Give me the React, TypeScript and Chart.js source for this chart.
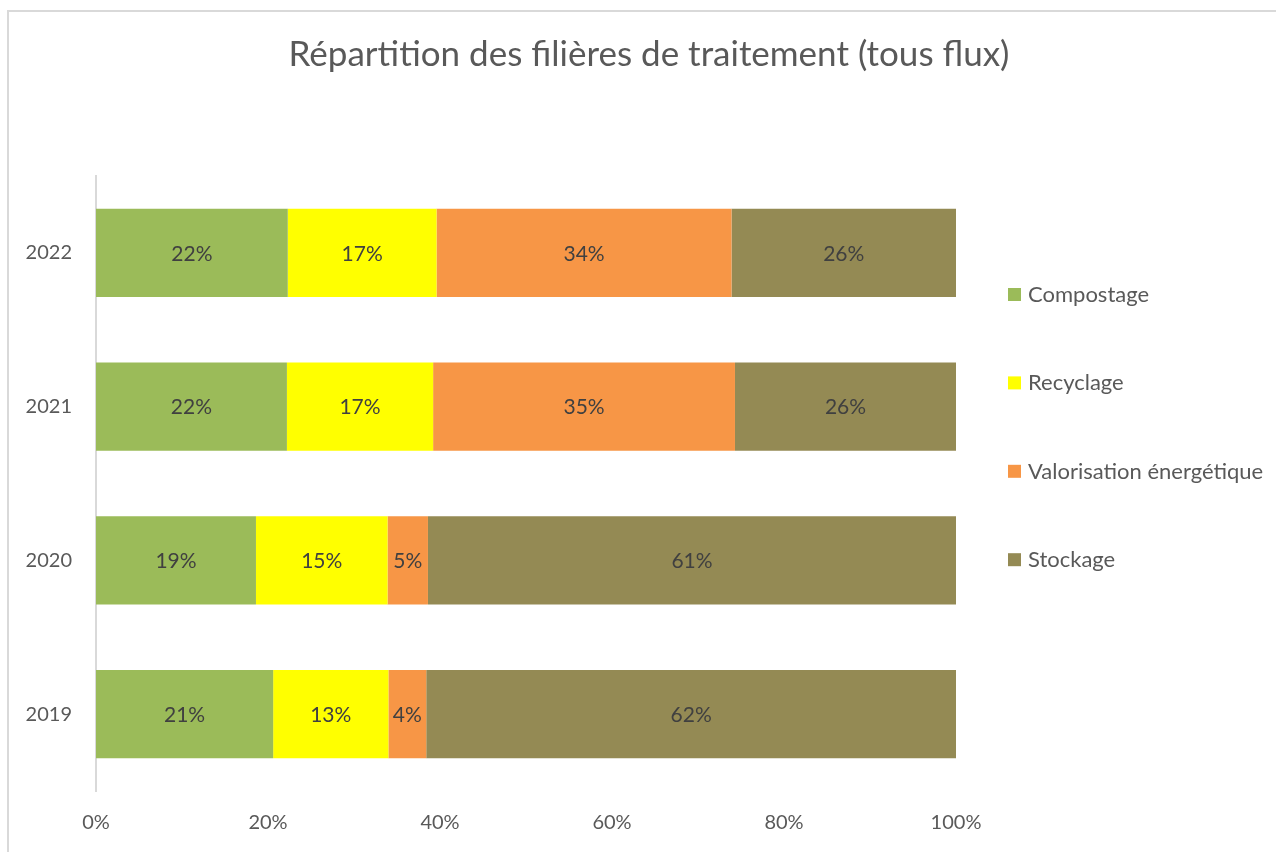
import React, { useEffect, useRef } from "react";
import { Chart, registerables } from "chart.js";

Chart.register(...registerables);

const years = ["2022", "2021", "2020", "2019"];
const seriesNames = ["Compostage", "Recyclage", "Valorisation énergétique", "Stockage"];
const compostage = [22.3, 22.2, 18.6, 20.6];
const recyclage = [17.3, 17.0, 15.3, 13.4];
const valorisation = [34.3, 35.1, 4.7, 4.4];
const stockage = [26.1, 25.7, 61.4, 61.6];
const seriesColors = ["#9BBB59", "#FFFF00", "#F79646", "#948A54"];
const xTicks = [0, 20, 40, 60, 80, 100];

const FONT = "Lato, 'Open Sans', sans-serif";

const labelPlugin = {
  id: "barLabels",
  afterDatasetsDraw(chart: any) {
    const ctx = chart.ctx;
    ctx.save();
    ctx.font = `21px ${FONT}`;
    ctx.fillStyle = "#404040";
    ctx.textAlign = "center";
    ctx.textBaseline = "middle";
    chart.data.datasets.forEach((ds: any, di: number) => {
      const meta = chart.getDatasetMeta(di);
      meta.data.forEach((bar: any, i: number) => {
        const v = ds.data[i];
        const { x, y, base } = bar.getProps(["x", "y", "base"], true);
        ctx.fillText(Math.round(v) + "%", (x + base) / 2, y + 1);
      });
    });
    ctx.restore();
  },
};

const legendPlugin = {
  id: "sideLegend",
  afterDraw(chart: any) {
    const ctx = chart.ctx;
    const area = chart.chartArea;
    ctx.save();
    ctx.font = `22px ${FONT}`;
    ctx.textBaseline = "middle";
    ctx.textAlign = "left";
    chart.data.datasets.forEach((ds: any, i: number) => {
      const y = area.top + 118 + i * 88.4;
      const x = area.right + 52;
      ctx.fillStyle = ds.backgroundColor;
      ctx.fillRect(x, y - 6, 13, 13);
      ctx.fillStyle = "#595959";
      ctx.fillText(ds.label, x + 20, y + 1);
    });
    ctx.restore();
  },
};

export default function App() {
  const ref = useRef<HTMLCanvasElement | null>(null);
  useEffect(() => {
    if (!ref.current) return;
    const values = [compostage, recyclage, valorisation, stockage];
    const chart = new Chart(ref.current, {
      type: "bar",
      data: {
        labels: years,
        datasets: seriesNames.map((name, i) => ({
          label: name,
          data: values[i],
          backgroundColor: seriesColors[i],
          borderWidth: 0,
          categoryPercentage: 1,
          barPercentage: 0.573,
        })),
      },
      options: {
        indexAxis: "y",
        responsive: false,
        animation: false,
        layout: { padding: { left: 22, right: 0, top: 0, bottom: 0 } },
        plugins: {
          legend: { display: false },
          tooltip: { enabled: false },
          title: {
            display: true,
            text: "Répartition des filières de traitement (tous flux)",
            color: "#595959",
            font: { family: FONT, size: 35, weight: "normal" },
            padding: { top: 34, bottom: 100 },
          },
        },
        scales: {
          x: {
            stacked: true,
            min: 0,
            max: 100,
            afterBuildTicks: (s: any) => {
              s.ticks = xTicks.map((v) => ({ value: v }));
            },
            afterFit: (s: any) => {
              s.height = 61;
            },
            ticks: {
              callback: (v: any) => v + "%",
              color: "#595959",
              font: { family: FONT, size: 20 },
              padding: 20,
              maxRotation: 0,
            },
            grid: { display: false, drawTicks: false },
            border: { display: false },
          },
          y: {
            stacked: true,
            afterFit: (s: any) => {
              s.width = 74;
            },
            ticks: {
              color: "#595959",
              font: { family: FONT, size: 20 },
              padding: 24,
            },
            grid: { display: false, drawTicks: false },
            border: { display: true, color: "#D9D9D9", width: 2 },
          },
          yRight: {
            type: "category",
            position: "right",
            display: true,
            afterFit: (s: any) => {
              s.width = 320;
            },
            ticks: { display: false },
            grid: { display: false, drawTicks: false },
            border: { display: false },
          },
        },
      },
      plugins: [labelPlugin, legendPlugin],
    } as any);
    return () => chart.destroy();
  }, []);

  return (
    <div style={{ position: "fixed", left: 0, top: 0, width: 1276, height: 852, background: "#fff" }}>
      <div
        style={{
          position: "absolute",
          left: 7,
          top: 10,
          width: 1269,
          height: 842,
          borderTop: "2px solid #D9D9D9",
          borderLeft: "2px solid #D9D9D9",
          boxSizing: "border-box",
        }}
      />
      <canvas ref={ref} width={1276} height={852} style={{ position: "absolute", left: 0, top: 0 }} />
    </div>
  );
}
